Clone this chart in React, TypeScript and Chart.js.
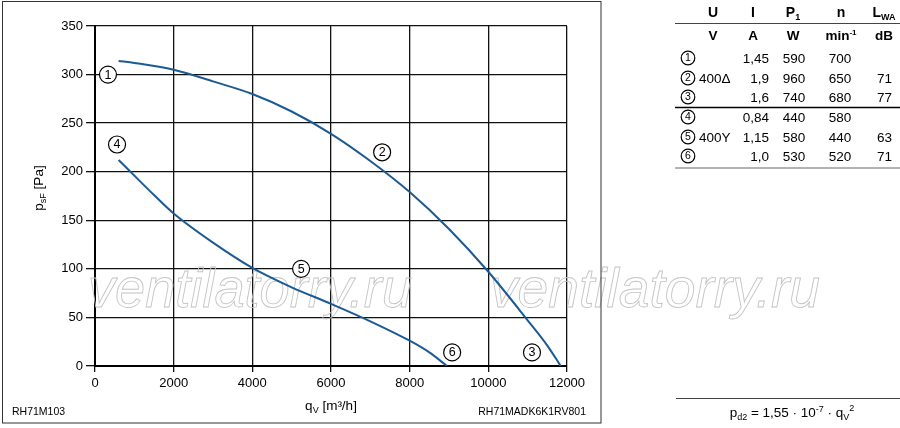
import { useEffect, useRef } from "react";
import { Chart, registerables } from "chart.js";

Chart.register(...registerables);

// ---------- data ----------
const curveAFlow = [600, 1000, 2000, 3000, 4000, 5000, 6000, 7000, 8000, 9000, 10000, 11000, 11500, 11840];
const curveAPressure = [314, 312, 305, 293, 280, 262, 239, 211, 179, 141, 97, 47, 21, 0];
const curveBFlow = [600, 1000, 1500, 2000, 3000, 4000, 5000, 6000, 7000, 8000, 8500, 8950];
const curveBPressure = [212, 196, 176, 157, 127, 101, 81, 64, 46, 26, 14, 0];

const xMin = 0;
const xMax = 12000;
const xStep = 2000;
const yMin = 0;
const yMax = 350;
const yStep = 50;

const curveLabelIds = ["1", "4", "2", "5", "6", "3"];
const curveLabelFlow = [330, 560, 7300, 5240, 9080, 11110];
const curveLabelPressure = [300, 228, 220, 100, 14, 14];

const tableHeads = ["U", "I", "P", "n", "L"];
const tableHeadSubs = ["", "", "1", "", "WA"];
const tableUnits = ["V", "A", "W", "min", "dB"];
const rowIds = ["1", "2", "3", "4", "5", "6"];
const rowVoltage = ["", "400Δ", "", "", "400Y", ""];
const rowCurrent = ["1,45", "1,9", "1,6", "0,84", "1,15", "1,0"];
const rowPower = ["590", "960", "740", "440", "580", "530"];
const rowSpeed = ["700", "650", "680", "580", "440", "520"];
const rowSound = ["", "71", "77", "", "63", "71"];

const footLeft = "RH71M103";
const footRight = "RH71MADK6K1RV801";
const watermark = "ventilatorry.ru";

// ---------- styles ----------
const FONT = '"Liberation Sans", Arial, sans-serif';
const BLUE = "#1c5a93";

type Part = { t: string; s: number; dy?: number; b?: boolean };

function fontOf(p: Part) {
  return `${p.b ? "bold " : ""}${p.s}px ${FONT}`;
}

function drawRich(ctx: CanvasRenderingContext2D, parts: Part[], x: number, y: number, align: "left" | "center" | "right") {
  ctx.save();
  ctx.textAlign = "left";
  ctx.textBaseline = "alphabetic";
  let w = 0;
  for (const p of parts) {
    ctx.font = fontOf(p);
    w += ctx.measureText(p.t).width;
  }
  let cx = align === "center" ? x - w / 2 : align === "right" ? x - w : x;
  for (const p of parts) {
    ctx.font = fontOf(p);
    ctx.fillText(p.t, cx, y + (p.dy || 0));
    cx += ctx.measureText(p.t).width;
  }
  ctx.restore();
}

function circled(ctx: CanvasRenderingContext2D, id: string, x: number, y: number, r: number, size: number) {
  ctx.save();
  ctx.beginPath();
  ctx.arc(x, y, r, 0, Math.PI * 2);
  ctx.fillStyle = "#fff";
  ctx.fill();
  ctx.lineWidth = 1.2;
  ctx.strokeStyle = "#000";
  ctx.stroke();
  ctx.fillStyle = "#000";
  ctx.font = `${size}px ${FONT}`;
  ctx.textAlign = "center";
  ctx.textBaseline = "middle";
  ctx.fillText(id, x, y + 0.5);
  ctx.restore();
}

function hline(ctx: CanvasRenderingContext2D, x1: number, x2: number, y: number, color: string, w: number) {
  ctx.save();
  ctx.beginPath();
  ctx.moveTo(x1, y);
  ctx.lineTo(x2, y);
  ctx.strokeStyle = color;
  ctx.lineWidth = w;
  ctx.stroke();
  ctx.restore();
}

const decor = {
  id: "decor",
  beforeDraw(chart: any) {
    const ctx = chart.ctx as CanvasRenderingContext2D;
    ctx.save();
    ctx.fillStyle = "#fff";
    ctx.fillRect(0, 0, chart.width, chart.height);
    ctx.restore();
  },
  beforeDatasetsDraw(chart: any) {
    const ctx = chart.ctx as CanvasRenderingContext2D;
    ctx.save();
    ctx.font = `italic 56px ${FONT}`;
    ctx.textAlign = "left";
    ctx.textBaseline = "alphabetic";
    ctx.strokeStyle = "#c4c4c4";
    ctx.lineWidth = 0.9;
    ctx.strokeText(watermark, 88, 307, 324);
    ctx.strokeText(watermark, 490, 307, 330);
    ctx.restore();
  },
  afterDraw(chart: any) {
    const ctx = chart.ctx as CanvasRenderingContext2D;
    const xs = chart.scales.x;
    const ys = chart.scales.y;

    // outer frame of the chart panel
    ctx.save();
    ctx.strokeStyle = "#333";
    ctx.lineWidth = 1;
    ctx.strokeRect(2.5, 1.5, 598.5, 421.5);
    ctx.restore();

    // curve labels
    curveLabelIds.forEach((id, i) => {
      circled(ctx, id, xs.getPixelForValue(curveLabelFlow[i]), ys.getPixelForValue(curveLabelPressure[i]), 8.5, 12.5);
    });

    ctx.fillStyle = "#000";
    // axis titles
    drawRich(ctx, [{ t: "q", s: 13.5 }, { t: "V", s: 9, dy: 3 }, { t: " [m³/h]", s: 13.5 }], (xs.left + xs.right) / 2, 410, "center");
    ctx.save();
    ctx.translate(38, 188);
    ctx.rotate(-Math.PI / 2);
    drawRich(ctx, [{ t: "p", s: 13.5 }, { t: "sF", s: 9, dy: 3 }, { t: " [Pa]", s: 13.5 }], 0, 4.7, "center");
    ctx.restore();

    // footers
    ctx.save();
    ctx.fillStyle = "#000";
    ctx.font = `10.5px ${FONT}`;
    ctx.textBaseline = "middle";
    ctx.textAlign = "left";
    ctx.fillText(footLeft, 12, 412);
    ctx.textAlign = "right";
    ctx.fillText(footRight, 586, 412);
    ctx.restore();

    // table
    const headX = [713, 753, 793, 841, 884];
    tableHeads.forEach((h, i) => {
      const parts: Part[] = [{ t: h, s: 14, b: true }];
      if (tableHeadSubs[i]) parts.push({ t: tableHeadSubs[i], s: 9, b: true, dy: 3 });
      drawRich(ctx, parts, headX[i], 17, "center");
    });
    tableUnits.forEach((u, i) => {
      const parts: Part[] = [{ t: u, s: 13.5, b: true }];
      if (u === "min") parts.push({ t: "-1", s: 8, b: true, dy: -5 });
      drawRich(ctx, parts, headX[i], 40, "center");
    });
    hline(ctx, 675, 900, 23.5, "#444", 1);

    const rowY = [58, 78, 97, 117, 137, 156];
    rowIds.forEach((id, i) => {
      const y = rowY[i];
      const b = y + 5;
      circled(ctx, id, 688, y, 6.8, 10.5);
      if (rowVoltage[i]) drawRich(ctx, [{ t: rowVoltage[i], s: 13.5 }], 699, b, "left");
      drawRich(ctx, [{ t: rowCurrent[i], s: 13.5 }], 769, b, "right");
      drawRich(ctx, [{ t: rowPower[i], s: 13.5 }], 794, b, "center");
      drawRich(ctx, [{ t: rowSpeed[i], s: 13.5 }], 840, b, "center");
      if (rowSound[i]) drawRich(ctx, [{ t: rowSound[i], s: 13.5 }], 892, b, "right");
    });
    hline(ctx, 675, 900, 107.5, "#000", 1.5);
    hline(ctx, 675, 900, 168, "#666", 1);

    // formula
    hline(ctx, 676, 900, 398.5, "#444", 1);
    drawRich(
      ctx,
      [
        { t: "p", s: 13.5 },
        { t: "d2", s: 9, dy: 3 },
        { t: " = 1,55 · 10", s: 13.5 },
        { t: "-7", s: 9, dy: -5 },
        { t: " · q", s: 13.5 },
        { t: "V", s: 9, dy: 3 },
        { t: "2", s: 9, dy: -6 },
      ],
      792,
      417,
      "center"
    );
  },
};

export default function App() {
  const ref = useRef<HTMLCanvasElement>(null);
  useEffect(() => {
    const canvas = ref.current;
    if (!canvas) return;
    const tickFont = { family: FONT, size: 13 };
    const chart = new Chart(canvas, {
      type: "scatter",
      data: {
        datasets: [
          {
            data: curveAFlow.map((x, i) => ({ x, y: curveAPressure[i] })),
            showLine: true,
            borderColor: BLUE,
            borderWidth: 2,
            pointRadius: 0,
            cubicInterpolationMode: "monotone",
            fill: false,
          },
          {
            data: curveBFlow.map((x, i) => ({ x, y: curveBPressure[i] })),
            showLine: true,
            borderColor: BLUE,
            borderWidth: 2,
            pointRadius: 0,
            cubicInterpolationMode: "monotone",
            fill: false,
          },
        ],
      },
      options: {
        responsive: false,
        animation: false,
        devicePixelRatio: 1,
        layout: { padding: { left: 0, right: 333, top: 26, bottom: 0 } },
        plugins: { legend: { display: false }, tooltip: { enabled: false }, title: { display: false } },
        scales: {
          x: {
            type: "linear",
            min: xMin,
            max: xMax,
            ticks: {
              stepSize: xStep,
              color: "#000",
              font: tickFont,
              padding: 4,
              maxRotation: 0,
              autoSkip: false,
              callback: (v: any) => String(v),
            },
            grid: { color: "#111", lineWidth: 1.3, tickLength: 6, tickColor: "#111" },
            border: { color: "#000", width: 2 },
            afterFit: (s: any) => {
              s.height = 62;
            },
          },
          y: {
            type: "linear",
            min: yMin,
            max: yMax,
            ticks: {
              stepSize: yStep,
              color: "#000",
              font: tickFont,
              padding: 3,
              callback: (v: any) => String(v),
            },
            grid: { color: "#111", lineWidth: 1.3, tickLength: 9, tickColor: "#111" },
            border: { color: "#000", width: 2 },
            afterFit: (s: any) => {
              s.width = 95;
            },
          },
        },
      } as any,
      plugins: [decor],
    });
    return () => chart.destroy();
  }, []);
  return (
    <div style={{ position: "fixed", left: 0, top: 0, width: 900, height: 428, background: "#fff" }}>
      <canvas ref={ref} width={900} height={428} style={{ display: "block", width: 900, height: 428 }} />
    </div>
  );
}
